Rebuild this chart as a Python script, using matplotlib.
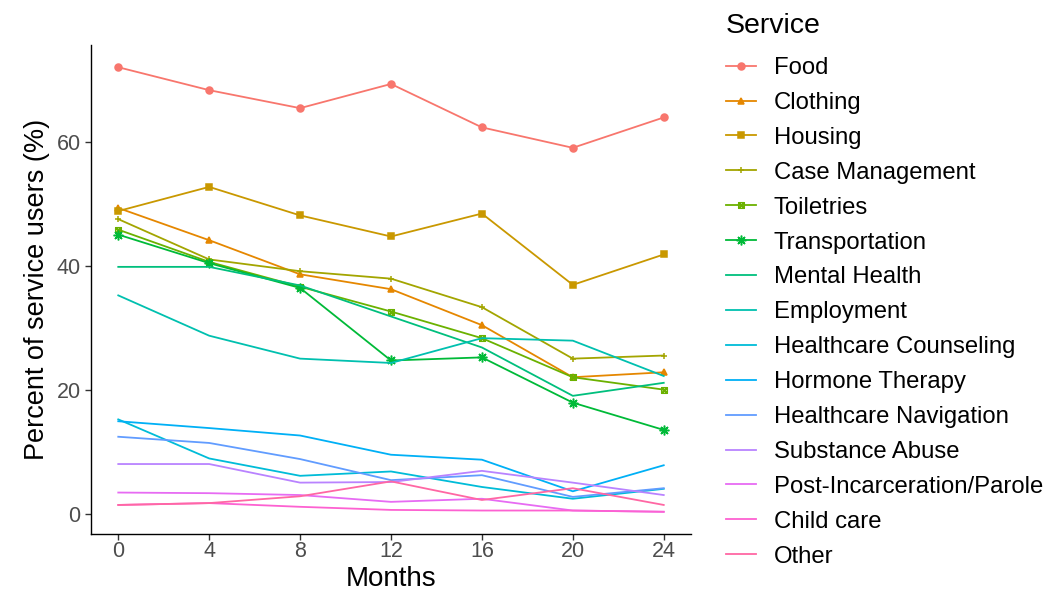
import matplotlib
matplotlib.use("Agg")
import matplotlib.pyplot as plt
from matplotlib.path import Path

plt.rcParams["font.family"] = ["Liberation Sans", "DejaVu Sans"]

months = [0, 4, 8, 12, 16, 20, 24]

services = ["Food", "Clothing", "Housing", "Case Management", "Toiletries",
            "Transportation", "Mental Health", "Employment", "Healthcare Counseling",
            "Hormone Therapy", "Healthcare Navigation", "Substance Abuse",
            "Post-Incarceration/Parole", "Child care", "Other"]

food = [72.0, 68.3, 65.4, 69.3, 62.3, 59.0, 63.9]
clothing = [49.3, 44.1, 38.6, 36.2, 30.4, 22.0, 22.8]
housing = [48.8, 52.7, 48.1, 44.7, 48.4, 36.9, 41.8]
case_management = [47.5, 41.0, 39.1, 37.9, 33.3, 25.0, 25.5]
toiletries = [45.8, 40.6, 36.6, 32.6, 28.3, 22.0, 20.0]
transportation = [45.0, 40.4, 36.4, 24.7, 25.2, 17.9, 13.5]
mental_health = [39.8, 39.8, 36.8, 31.8, 26.8, 19.0, 21.1]
employment = [35.2, 28.7, 25.0, 24.3, 28.3, 27.9, 22.2]
healthcare_counseling = [15.2, 8.9, 6.1, 6.8, 4.3, 2.4, 4.0]
hormone_therapy = [14.9, 13.8, 12.6, 9.5, 8.7, 3.6, 7.8]
healthcare_navigation = [12.4, 11.4, 8.8, 5.4, 6.2, 2.7, 4.1]
substance_abuse = [8.0, 8.0, 5.0, 5.1, 6.9, 5.0, 3.0]
post_incarceration = [3.4, 3.3, 3.0, 1.9, 2.4, 0.5, 0.3]
child_care = [1.4, 1.7, 1.1, 0.6, 0.5, 0.5, 0.3]
other = [1.4, 1.7, 2.8, 5.2, 2.2, 4.1, 1.4]

values = [food, clothing, housing, case_management, toiletries, transportation,
          mental_health, employment, healthcare_counseling, hormone_therapy,
          healthcare_navigation, substance_abuse, post_incarceration, child_care, other]

# ggplot2 default hue palette for 15 levels
colors = ["#F8766D", "#E58700", "#C99800", "#A3A500", "#6BB100", "#00BA38",
          "#00BF7D", "#00C0AF", "#00BCD8", "#00B0F6", "#619CFF", "#B983FF",
          "#E76BF3", "#FD61D1", "#FF67A4"]

# square with an X (ggplot shape 7)
box_x = Path([(-1, -1), (1, -1), (1, 1), (-1, 1), (-1, -1), (1, 1), (-1, 1), (1, -1)],
             [Path.MOVETO, Path.LINETO, Path.LINETO, Path.LINETO, Path.LINETO,
              Path.LINETO, Path.MOVETO, Path.LINETO])
markers = ["o", "^", "s", "+", box_x, (8, 2, 0)] + [None] * 9

fig = plt.figure(figsize=(10.61, 5.97), dpi=100)
ax = fig.add_axes([91 / 1061, 1 - 534 / 597, 600 / 1061, 489 / 597])

for name, vals, col, mk in zip(services, values, colors, markers):
    kw = dict(color=col, lw=1.3, label=name)
    if mk is not None:
        kw.update(marker=mk, ms=5, mew=1.1)
        if mk is box_x:
            kw.update(mfc="none", ms=4)
        if mk == (8, 2, 0):
            kw.update(ms=7)
    ax.plot(months, vals, **kw)

lo = min(min(v) for v in values)
hi = max(max(v) for v in values)
pad = (hi - lo) * 0.05
ax.set_ylim(lo - pad, hi + pad)
ax.set_xlim(-1.2, 25.2)
ax.set_xticks(months)
ax.set_yticks([0, 20, 40, 60])

for s in ["top", "right"]:
    ax.spines[s].set_visible(False)
for s in ["left", "bottom"]:
    ax.spines[s].set_linewidth(1.0)
    ax.spines[s].set_color("black")
ax.tick_params(labelsize=15.5, labelcolor="#4D4D4D", length=4, width=1.0, color="#333333")
ax.tick_params(axis="x", pad=1)
ax.set_xlabel("Months", fontsize=20, labelpad=3)
ax.set_ylabel("Percent of service users (%)", fontsize=19.5, labelpad=5)

leg = fig.legend(loc="upper left", bbox_to_anchor=(714 / 1061, 1 - 1 / 597),
                 frameon=False, fontsize=17.2, title="Service", title_fontsize=20.5,
                 alignment="left", borderpad=0, labelspacing=0.54,
                 handlelength=1.25, handletextpad=0.75)
leg._legend_box.sep = 13

fig.savefig("out.png", dpi=100)
